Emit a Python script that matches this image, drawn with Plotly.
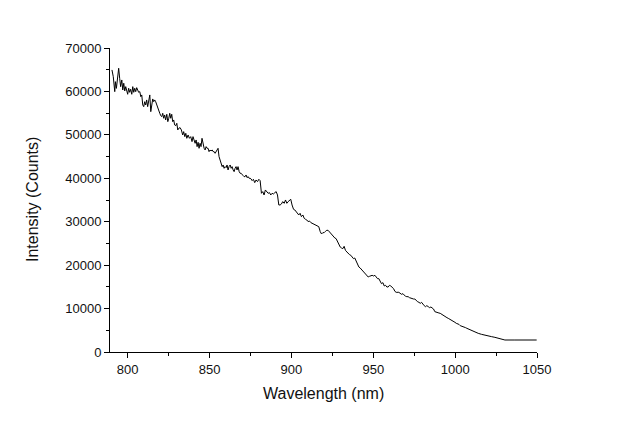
import plotly.graph_objects as go

# Wavelength (nm) and intensity (counts)
wl_a = [790.4, 791.2, 792.1, 792.5, 793.1, 793.9, 794.5, 795.1, 795.7, 796.4, 797.0, 797.6, 798.2, 798.8,
        799.4, 800.0, 800.6, 801.2, 801.8, 802.5, 803.1, 803.7, 804.3, 804.9, 805.5, 806.1, 806.7, 807.4,
        808.0, 808.6, 809.2, 809.8, 810.4, 811.0, 811.6, 812.2, 812.9, 813.5, 814.1, 814.7, 815.3, 815.9,
        816.5, 817.1, 817.7, 818.3, 819.0, 819.6, 820.2, 820.8, 821.4, 822.0, 822.6, 823.2, 823.9, 824.5,
        825.1, 825.7, 826.3, 826.9, 827.5, 828.1, 828.7, 829.4, 830.0, 830.6, 831.2]
int_a = [64950, 63400, 59950, 62250, 60700, 64180, 65330, 63030, 61100, 62640, 60340, 61880, 60110, 61100,
         59950, 59340, 60730, 59800, 60500, 59340, 61100, 59800, 60730, 59950, 60870, 60110, 59800, 59950,
         58800, 59190, 56880, 56490, 57640, 56880, 58040, 56490, 58420, 59190, 55340, 57640, 58270, 57640,
         58040, 57640, 56880, 56490, 55730, 54970, 54420, 54190, 54970, 53820, 54580, 53430, 54740, 53040,
         53820, 54970, 53820, 54740, 53040, 53430, 52280, 52120, 52660, 51130, 51520]

wl_b = [832.0, 832.8, 833.6, 834.2, 834.9, 835.5, 836.1, 836.9, 837.7, 838.5, 839.3, 839.9, 840.6, 841.2,
        841.8, 842.4, 843.0, 843.6, 844.2, 844.8, 845.4, 846.1, 846.7, 847.3, 847.9, 848.5, 849.1, 849.7,
        850.3, 850.9, 851.6, 852.2, 852.8, 853.4, 854.0, 854.6, 855.2, 855.8, 856.4, 857.1, 857.7, 858.3,
        858.9, 859.5, 860.1, 860.7, 861.3, 861.9, 862.6, 863.2, 863.8, 864.4, 865.0, 865.6, 866.2, 866.8,
        867.4, 868.1, 868.7, 869.3, 869.9, 870.5, 871.1, 871.7, 872.3, 872.9, 873.6, 874.2, 874.8, 875.4]
int_b = [51664, 51126, 49975, 50743, 49590, 50358, 49207, 49975, 49207, 49590, 48439, 49590, 48439, 48056,
         48823, 47288, 48286, 46904, 48056, 47288, 49207, 47672, 46904, 46520, 47288, 46904, 46904, 46136,
         46520, 46290, 46520, 46136, 46136, 45753, 46136, 46520, 46904, 44985, 44217, 43066, 42682, 43066,
         42298, 42682, 42451, 43066, 41914, 42682, 43066, 42298, 42682, 41914, 41530, 42298, 42682, 41914,
         42682, 41530, 41146, 41146, 40763, 40609, 40379, 40379, 40763, 40148, 40379, 39995, 39995, 39841]

wl_c = [876.0, 876.8, 877.6, 878.4, 879.3, 880.1, 880.9, 881.7, 882.5, 883.3, 884.1, 885.0, 885.8, 886.6,
        887.4, 888.2, 889.0, 889.9, 890.7, 891.5, 892.3, 893.1, 893.9, 894.7, 895.6, 896.4, 897.2, 898.0,
        898.8, 899.6, 900.4, 901.3, 902.1, 902.9, 903.7, 904.5, 905.3, 906.1, 907.0, 907.8, 908.6, 909.4,
        910.2, 911.0, 911.9, 912.7, 913.5, 914.3, 915.1, 915.9, 916.7, 917.6, 918.4, 919.2]
int_c = [39458, 39765, 38998, 39612, 39228, 39765, 39458, 36541, 36925, 36157, 37309, 36925, 36541, 36695,
         36157, 36541, 36388, 36695, 36925, 36157, 33854, 33854, 34084, 34622, 34238, 35006, 34238, 34622,
         34852, 35159, 33854, 32856, 32703, 32319, 32088, 31551, 31935, 31167, 31551, 30783, 30553, 30399,
         30016, 30169, 29786, 29632, 29478, 29401, 29248, 29017, 28864, 27712, 27175, 27482]

wl_d = [920.0, 920.8, 921.6, 922.4, 923.3, 924.1, 924.9, 925.7, 926.5, 927.3, 928.1, 929.0, 929.8, 930.6,
        931.4, 932.2, 933.0, 933.9, 934.7, 935.5, 936.3, 937.1, 937.9, 938.7, 939.6, 940.4, 941.2, 942.0,
        942.8, 943.6, 944.4, 945.3, 946.1, 946.9, 947.7, 948.5, 949.3, 950.1, 951.0, 951.8, 952.6, 953.4,
        954.2, 955.0, 955.9, 956.7, 957.5, 958.3, 959.1, 959.9, 960.7, 961.6, 962.4, 963.2]
int_d = [27482, 27789, 28020, 28020, 27636, 27252, 26868, 26484, 26254, 26100, 25486, 24565, 24181, 23951,
         23797, 24335, 23414, 23030, 22646, 22416, 22262, 21878, 21494, 21648, 20880, 19959, 19575, 19345,
         19038, 18577, 18270, 18040, 17656, 17272, 17426, 17502, 17656, 17502, 17656, 17272, 16888, 16888,
         16120, 15736, 15967, 15199, 15353, 14969, 14969, 15353, 15199, 14969, 14585, 13970]

wl_e = [964.0, 965.6, 966.4, 967.3, 968.1, 968.9, 969.7, 970.5, 971.3, 972.1, 973.0, 973.8, 974.6, 975.4,
        976.2, 977.0, 977.9, 978.7, 979.5, 980.3, 981.1, 981.9, 982.7, 983.6, 984.4, 985.2, 986.0, 986.8,
        987.6, 988.4, 989.3, 990.1, 990.9, 991.7, 992.5, 993.3, 994.1, 995.0, 995.8, 996.6, 997.4, 998.2,
        999.0, 999.9, 1000.7, 1001.5, 1002.3, 1003.1, 1003.9, 1004.7, 1005.6, 1006.4, 1007.2, 1008.0]
int_e = [13741, 13741, 13434, 13280, 13434, 12973, 12820, 12743, 12743, 12513, 12359, 12359, 12205, 12205,
         11744, 11589, 11438, 11208, 11438, 10977, 10670, 10440, 10670, 10440, 10210, 10363, 10210, 9902,
         9288, 9135, 9135, 8981, 8904, 8674, 8521, 8367, 8137, 7906, 7753, 7599, 7369, 7139,
         6985, 6832, 6601, 6525, 6371, 6064, 5987, 5834, 5680, 5603, 5450, 5296]

wl_f = [1010.0, 1012.1, 1014.1, 1016.1, 1018.2, 1020.2, 1022.3, 1024.3, 1026.3, 1028.4, 1030.4, 1036.5,
        1042.6, 1049.8]
int_f = [5067, 4606, 4299, 4069, 3838, 3685, 3531, 3378, 3148, 2994, 2764, 2764, 2764, 2764]

wavelength = wl_a + wl_b + wl_c + wl_d + wl_e + wl_f
intensity = int_a + int_b + int_c + int_d + int_e + int_f

x_ticks = [800, 850, 900, 950, 1000, 1050]
y_ticks = [0, 10000, 20000, 30000, 40000, 50000, 60000, 70000]
x_title = "Wavelength (nm)"
y_title = "Intensity (Counts)"

FONT = "Liberation Sans, Arial, sans-serif"
TXT = "#111"

fig = go.Figure()
fig.add_trace(go.Scatter(x=wavelength, y=intensity, mode="lines",
                         line=dict(color="black", width=1), showlegend=False))

axis_common = dict(showgrid=False, zeroline=False, showline=True, linecolor="black", linewidth=1,
                   ticks="outside", ticklen=5, tickwidth=1, tickcolor="black", automargin=False,
                   tickfont=dict(family=FONT, size=13, color=TXT))

fig.update_xaxes(range=[789.2, 1050], tickvals=x_ticks, ticktext=[str(v) for v in x_ticks],
                 minor=dict(ticks="outside", ticklen=3, dtick=25, tick0=800, tickcolor="black"),
                 **axis_common)
fig.update_yaxes(range=[0, 70000], tickvals=y_ticks, ticktext=[str(v) for v in y_ticks],
                 minor=dict(ticks="outside", ticklen=3, dtick=5000, tick0=0, tickcolor="black"),
                 **axis_common)

fig.add_annotation(text=x_title, xref="paper", yref="paper", x=0.5, y=0, yshift=-41,
                   xanchor="center", yanchor="middle", showarrow=False,
                   font=dict(family=FONT, size=16, color=TXT))
fig.add_annotation(text=y_title, xref="paper", yref="paper", x=0, y=0.5, xshift=-78,
                   xanchor="center", yanchor="middle", textangle=-90, showarrow=False,
                   font=dict(family=FONT, size=16, color=TXT))

# page body has an 8px default margin, so the figure is offset by (8, 8)
fig.update_layout(width=628, height=428, margin=dict(l=102, r=99, t=40, b=84),
                  plot_bgcolor="white", paper_bgcolor="white")

fig.write_html("out.html")
